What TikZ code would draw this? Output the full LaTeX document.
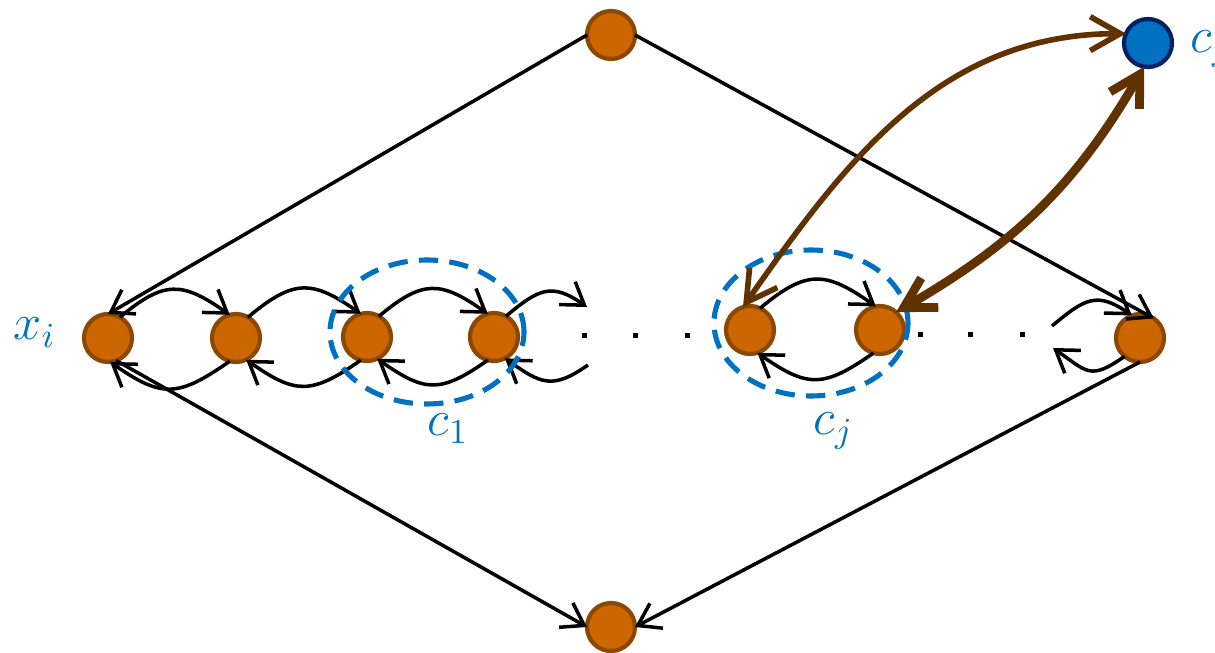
\documentclass[tikz,border=0pt]{standalone}
\usetikzlibrary{arrows.meta}
\definecolor{orfill}{RGB}{204,102,0}
\definecolor{ordraw}{RGB}{140,72,0}
\definecolor{bfill}{RGB}{0,112,192}
\definecolor{bdraw}{RGB}{0,32,96}
\definecolor{lblue}{RGB}{0,112,192}
\definecolor{brn}{RGB}{96,50,0}
\begin{document}
\begin{tikzpicture}[x=1cm,y=1cm,
  vert/.style={circle,fill=orfill,draw=ordraw,line width=1.2pt,minimum size=0.48cm,inner sep=0pt,outer sep=0pt},
  cnode/.style={vert,fill=bfill,draw=bdraw},
  lbl/.style={text=lblue,font=\Large,inner sep=0pt,anchor=base west},
  arr/.style={line width=1pt,-{Straight Barb[length=2.1mm,width=2.8mm]}},
  up/.style={out=40,in=145,looseness=1.35},
  down/.style={out=-145,in=-35,looseness=1.35},
  brarr/.style={draw=brn,{Straight Barb[length=3mm,width=3.4mm]}-{Straight Barb[length=3mm,width=3.4mm]}},
  grp/.style={draw=lblue,line width=1.45pt,dash pattern=on 5.5pt off 3.2pt},
  dotsq/.style={rectangle,fill=black,minimum size=0.05cm,inner sep=0pt}
]
\useasboundingbox (0,0) rectangle (12.15,-6.53);

% nodes
\node[vert] (top) at (6.11,-0.35) {};
\node[vert] (bot) at (6.11,-6.27) {};
\node[vert] (xi) at (1.08,-3.38) {};
\node[vert] (n2) at (2.36,-3.38) {};
\node[vert] (n3) at (3.67,-3.37) {};
\node[vert] (n4) at (4.94,-3.37) {};
\node[vert] (n5) at (7.50,-3.30) {};
\node[vert] (n6) at (8.80,-3.30) {};
\node[vert] (nr) at (11.40,-3.38) {};
\node[cnode] (blue) at (11.48,-0.43) {};

% free ends
\coordinate (pa1) at (5.87,-3.07);
\coordinate (pa2) at (5.88,-3.65);
\coordinate (pb1) at (10.52,-3.26);
\coordinate (pb2) at (10.53,-3.48);

% dots
\node[dotsq] (d1) at (5.84,-3.36) {};
\node[dotsq] (d2) at (6.35,-3.36) {};
\node[dotsq] (d3) at (6.87,-3.36) {};
\node[dotsq] (d4) at (9.20,-3.35) {};
\node[dotsq] (d5) at (9.70,-3.35) {};
\node[dotsq] (d6) at (10.22,-3.35) {};

% straight connectors
\draw[arr] (top.west) -- (xi.north);
\draw[arr] (top.east) -- (nr.55);
\draw[arr] (xi.-70) -- (bot.west);
\draw[arr] (nr.south) -- (bot.east);

% chain arcs
\draw[arr] (xi.60) to[up] (n2.105);
\draw[arr] (n2.-105) to[down] (xi.-85);
\draw[arr] (n2.60) to[up] (n3.105);
\draw[arr] (n3.-105) to[down] (n2.-65);
\draw[arr] (n3.60) to[up] (n4.105);
\draw[arr] (n4.-105) to[down] (n3.-65);
\draw[arr] (n4.60) to[up] (pa1);
\draw[arr] (pa2) to[down] (n4.-63);
\draw[arr] (n5.65) to[up] (n6.100);
\draw[arr] (n6.-106) to[down] (n5.-72);
\draw[arr] (pb1) to[up] (nr.110);
\draw[arr] (nr.-130) to[down,looseness=1.5] (pb2);

% group ellipses
\draw[grp] (4.27,-3.32) ellipse [x radius=0.97,y radius=0.72];
\draw[grp] (8.11,-3.23) ellipse [x radius=0.97,y radius=0.73];

% brown arrows
\draw[brarr,line width=1.6pt] (n5.107) to[out=55,in=180] (blue.157);
\draw[brarr,line width=2.5pt] (n6.48) to[out=30,in=-120] (blue.-99);

% labels
\node[lbl] (lxi) at (0.13,-3.40) {$x_i$};
\node[lbl] (lc1) at (4.27,-4.36) {$c_1$};
\node[lbl] (lcj) at (8.13,-4.35) {$c_j$};
\node[lbl] (lcb) at (11.90,-0.53) {$c_j$};
\end{tikzpicture}
\end{document}
